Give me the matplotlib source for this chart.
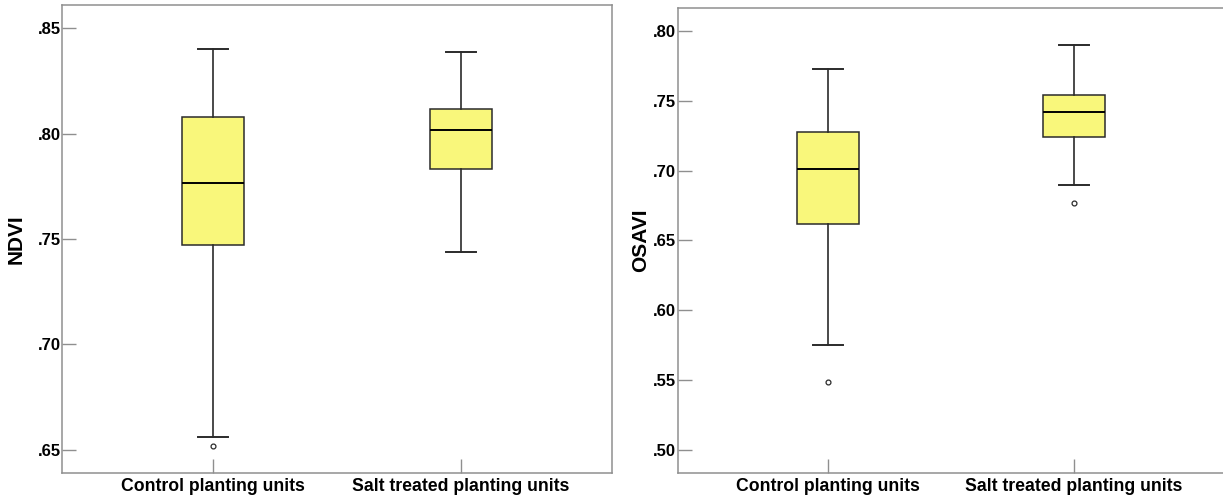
import matplotlib
matplotlib.use('Agg')
from matplotlib import pyplot as plt
from matplotlib.ticker import FuncFormatter

plt.rcParams['font.family'] = ['Liberation Sans', 'DejaVu Sans']

groups = ['Control planting units', 'Salt treated planting units']

# NDVI summary per group
ndvi_whislo = [0.656, 0.744]
ndvi_q1 = [0.747, 0.783]
ndvi_med = [0.7765, 0.8015]
ndvi_q3 = [0.808, 0.8115]
ndvi_whishi = [0.840, 0.8385]
ndvi_fliers = [[0.652], []]

# OSAVI summary per group
osavi_whislo = [0.575, 0.690]
osavi_q1 = [0.662, 0.724]
osavi_med = [0.701, 0.742]
osavi_q3 = [0.728, 0.754]
osavi_whishi = [0.773, 0.790]
osavi_fliers = [[0.549], [0.677]]

spine_grey = '#8f8f8f'
edge = '#2b2b2b'
fill = '#f9f77b'


def make_stats(lo, q1, med, q3, hi, fliers):
    stats = []
    for i in range(len(groups)):
        stats.append({'whislo': lo[i], 'q1': q1[i], 'med': med[i],
                      'q3': q3[i], 'whishi': hi[i], 'fliers': fliers[i]})
    return stats


def draw_panel(ax, stats, ylabel, ylim, yticks, label_x):
    ax.bxp(stats, positions=[1, 2], widths=0.25, capwidths=0.12,
           patch_artist=True, showfliers=True,
           boxprops=dict(facecolor=fill, edgecolor=edge, linewidth=1.1),
           medianprops=dict(color='black', linewidth=1.4),
           whiskerprops=dict(color=edge, linewidth=1.2),
           capprops=dict(color=edge, linewidth=1.4),
           flierprops=dict(marker='o', markersize=3.5, markerfacecolor='white',
                           markeredgecolor=edge, markeredgewidth=0.9))
    ax.set_xlim(0.39, 2.61)
    ax.set_ylim(*ylim)
    ax.set_yticks(yticks)
    ax.yaxis.set_major_formatter(FuncFormatter(lambda v, p: f'{v:.2f}'[1:]))
    ax.set_xticks([1, 2])
    ax.set_xticklabels(groups)
    for s in ax.spines.values():
        s.set_color(spine_grey)
        s.set_linewidth(1.1)
    ax.tick_params(axis='y', direction='in', length=10, width=1.0,
                   color=spine_grey, pad=1, labelsize=12)
    ax.tick_params(axis='x', direction='in', length=10, width=1.0,
                   color=spine_grey, pad=4, labelsize=12.7)
    for t in ax.get_xticklabels() + ax.get_yticklabels():
        t.set_fontweight('bold')
    ax.set_ylabel(ylabel, fontsize=15, fontweight='bold')
    ax.yaxis.set_label_coords(label_x, 0.5)


fig = plt.figure(figsize=(12.23, 5), dpi=100)
ax1 = fig.add_axes([0.0507, 0.0546, 0.4497, 0.936])
ax2 = fig.add_axes([0.5541, 0.0546, 0.4467, 0.9294])

draw_panel(ax1, make_stats(ndvi_whislo, ndvi_q1, ndvi_med, ndvi_q3, ndvi_whishi, ndvi_fliers),
           'NDVI', (0.6391, 0.8611), [0.65, 0.70, 0.75, 0.80, 0.85], -0.0655)
draw_panel(ax2, make_stats(osavi_whislo, osavi_q1, osavi_med, osavi_q3, osavi_whishi, osavi_fliers),
           'OSAVI', (0.4837, 0.8165), [0.50, 0.55, 0.60, 0.65, 0.70, 0.75, 0.80], -0.0507)

fig.savefig('out.png', dpi=100)
